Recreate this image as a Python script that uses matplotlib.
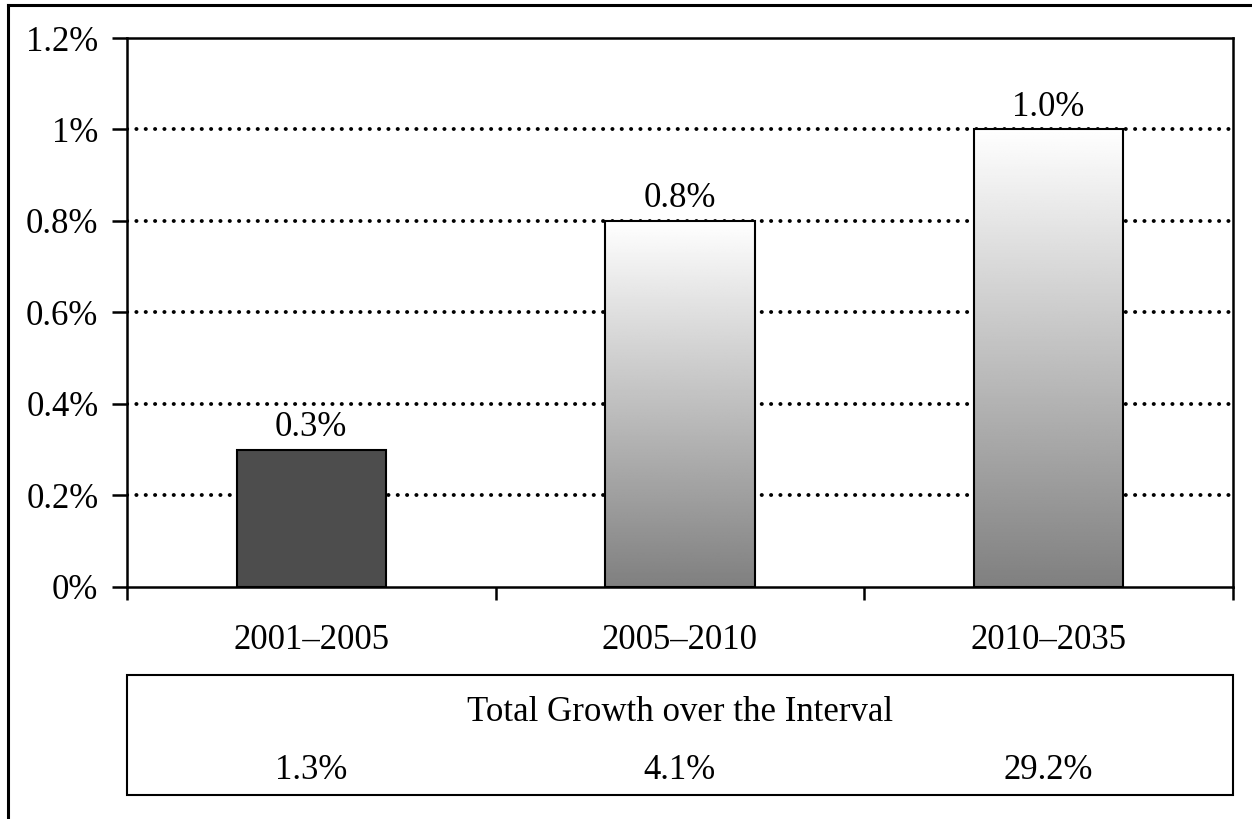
import numpy as np
import matplotlib.pyplot as plt
from matplotlib.patches import Rectangle
from matplotlib.lines import Line2D
from matplotlib.ticker import FuncFormatter
import matplotlib.transforms as mtransforms

plt.rcParams['font.family'] = ['Liberation Serif', 'DejaVu Serif']

periods = ['2001\u20132005', '2005\u20132010', '2010\u20132035']
annual_growth = [0.3, 0.8, 1.0]          # average annual growth, %
total_growth = ['1.3%', '4.1%', '29.2%']  # total over each interval
y_ticks = [0, 0.2, 0.4, 0.6, 0.8, 1.0, 1.2]

FS = 25

fig = plt.figure(figsize=(12.52, 8.19), dpi=100)
ax = fig.add_axes([0.1014, 0.2833, 0.8834, 0.6703])

x = np.arange(len(periods))
width = 0.405
ax.set_xlim(-0.5, len(periods) - 0.5)
ax.set_ylim(0, 1.2)

# dotted gridlines behind the bars
for yv in y_ticks[1:-1]:
    ax.axhline(yv, color='black', lw=2.8, linestyle=(0, (0.05, 2.35)),
               dash_capstyle='round', zorder=1)

# vertical white-to-grey gradient
grad = np.linspace(1.0, 0.5, 256).reshape(-1, 1)

for i, v in enumerate(annual_growth):
    left = x[i] - width / 2
    if i == 0:
        ax.add_patch(Rectangle((left, 0), width, v, facecolor='#4d4d4d',
                               edgecolor='black', lw=1.5, zorder=3))
    else:
        rect = Rectangle((left, 0), width, v, facecolor='none',
                         edgecolor='black', lw=1.5, zorder=4)
        ax.add_patch(rect)
        im = ax.imshow(grad, cmap='gray', vmin=0, vmax=1, aspect='auto',
                       extent=[left, left + width, 0, v], origin='upper',
                       zorder=3, interpolation='bilinear')
        im.set_clip_path(rect)
    ax.annotate(f'{v:.1f}%', (x[i], v), xytext=(0, 4),
                textcoords='offset points', ha='center', va='bottom',
                fontsize=FS)

ax.set_xlim(-0.5, len(periods) - 0.5)
ax.set_ylim(0, 1.2)

for s in ax.spines.values():
    s.set_linewidth(1.8)

ax.set_yticks(y_ticks)
ax.yaxis.set_major_formatter(FuncFormatter(
    lambda v, p: '0%' if v == 0 else ('1%' if abs(v - 1) < 1e-9 else f'{v:.1f}%')))
ax.tick_params(axis='y', length=11, width=1.8, pad=9.5, labelsize=FS)

ax.set_xticks(np.arange(len(periods) + 1) - 0.5)
ax.set_xticklabels([])
ax.tick_params(axis='x', which='major', length=9.5, width=1.8)
ax.set_xticks(x, minor=True)
ax.set_xticklabels(periods, minor=True)
ax.tick_params(axis='x', which='minor', length=0, pad=27, labelsize=FS)

# box with the total growth figures
fig.add_artist(Rectangle((0.1014, 0.0293), 0.8834, 0.1465, transform=fig.transFigure,
                         facecolor='none', edgecolor='black', lw=1.5))
trans = mtransforms.blended_transform_factory(ax.transData, fig.transFigure)
fig.text(0.5433, 0.1306, 'Total Growth over the Interval', ha='center',
         va='center', fontsize=FS)
for i, t in enumerate(total_growth):
    ax.text(x[i], 0.059, t, transform=trans, ha='center', va='center',
            fontsize=FS, clip_on=False)

# outer frame (left and top edges)
fig.add_artist(Line2D([0.0066, 0.0066], [0, 0.9939], transform=fig.transFigure,
                      color='black', lw=2.2))
fig.add_artist(Line2D([0.0066, 1.0], [0.9939, 0.9939], transform=fig.transFigure,
                      color='black', lw=2.2))

fig.savefig('out.png', dpi=100)
